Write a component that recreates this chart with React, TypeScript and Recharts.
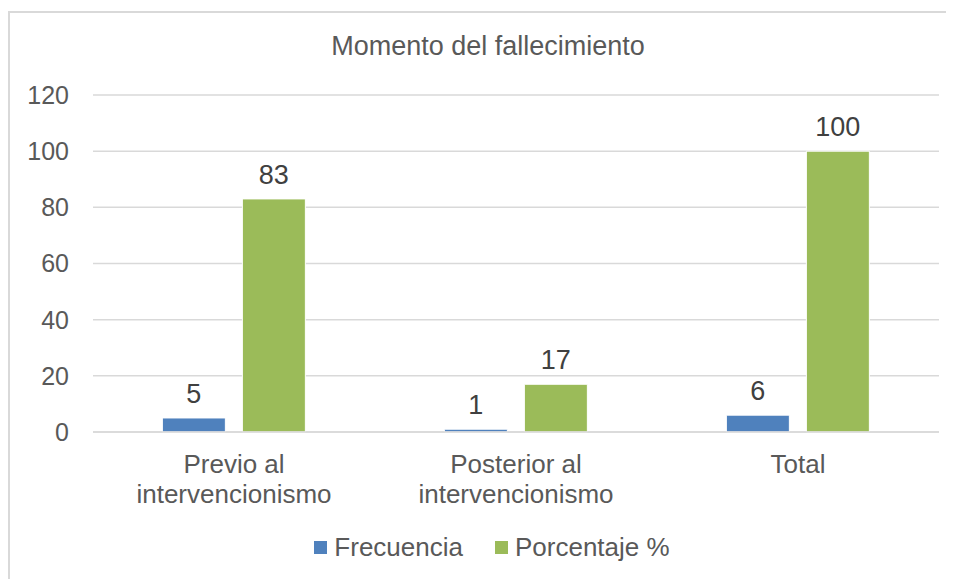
import React from 'react';
import { BarChart, Bar, XAxis, YAxis, CartesianGrid, Legend, LabelList } from 'recharts';

const categories = ['Previo al intervencionismo', 'Posterior al intervencionismo', 'Total'];
const frecuencia = [5, 1, 6];
const porcentaje = [83, 17, 100];
const yTicks = [0, 20, 40, 60, 80, 100, 120];

const data = categories.map((name, i) => ({
  name,
  frecuencia: frecuencia[i],
  porcentaje: porcentaje[i],
}));

const FONT = '"Liberation Sans", Arial, sans-serif';
const TEXT = '#595959';

// split long labels onto two lines like the original
const CategoryTick = ({ x, y, payload }: any) => {
  const words = String(payload.value).split(' ');
  const lines = words.length > 2 ? [words.slice(0, -1).join(' '), words[words.length - 1]] : [payload.value];
  return (
    <text x={x} y={y} textAnchor="middle" fill={TEXT} fontSize={26} fontFamily={FONT}>
      {lines.map((l: string, i: number) => (
        <tspan key={i} x={x} dy={i === 0 ? 33 : 30}>
          {l}
        </tspan>
      ))}
    </text>
  );
};

const LegendContent = () => (
  <div
    style={{
      display: 'flex',
      justifyContent: 'center',
      alignItems: 'center',
      gap: 32,
      paddingLeft: 12,
      fontFamily: FONT,
      fontSize: 26,
      color: TEXT,
    }}
  >
    <div style={{ display: 'flex', alignItems: 'center', gap: 7 }}>
      <div style={{ width: 13, height: 13, background: '#4F81BD' }} />
      <span>Frecuencia</span>
    </div>
    <div style={{ display: 'flex', alignItems: 'center', gap: 7 }}>
      <div style={{ width: 13, height: 13, background: '#9BBB59' }} />
      <span>Porcentaje %</span>
    </div>
  </div>
);

export default function App() {
  return (
    <div style={{ paddingTop: 3 }}>
      <div
        style={{
          position: 'relative',
          width: 946,
          height: 568,
          borderLeft: '2px solid #D9D9D9',
          borderTop: '2px solid #D9D9D9',
          boxSizing: 'border-box',
          background: '#fff',
        }}
      >
        <div
          style={{
            position: 'absolute',
            top: 18,
            left: 0,
            width: 956,
            textAlign: 'center',
            fontFamily: FONT,
            fontSize: 27,
            color: TEXT,
          }}
        >
          Momento del fallecimiento
        </div>
        <BarChart
          width={944}
          height={566}
          data={data}
          margin={{ top: 82, right: 15, left: 23, bottom: 10 }}
          barCategoryGap="24.6%"
          barGap={17}
        >
          <CartesianGrid vertical={false} stroke="#D9D9D9" strokeWidth={1.5} />
          <XAxis
            dataKey="name"
            tickLine={false}
            axisLine={{ stroke: '#D9D9D9', strokeWidth: 1.5 }}
            tick={<CategoryTick />}
            height={100}
            interval={0}
          />
          <YAxis
            domain={[0, 120]}
            ticks={yTicks}
            width={60}
            axisLine={false}
            tickLine={false}
            tickSize={0}
            tickMargin={24}
            tick={{ fill: TEXT, fontSize: 25, fontFamily: FONT }}
          />
          <Legend verticalAlign="bottom" height={37} content={<LegendContent />} />
          <Bar dataKey="frecuencia" name="Frecuencia" fill="#4F81BD" stroke="#fff" strokeWidth={1} isAnimationActive={false}>
            <LabelList dataKey="frecuencia" position="top" offset={15} fill="#404040" fontSize={27} fontFamily={FONT} />
          </Bar>
          <Bar dataKey="porcentaje" name="Porcentaje %" fill="#9BBB59" stroke="#fff" strokeWidth={1} isAnimationActive={false}>
            <LabelList dataKey="porcentaje" position="top" offset={15} fill="#404040" fontSize={27} fontFamily={FONT} />
          </Bar>
        </BarChart>
      </div>
    </div>
  );
}
